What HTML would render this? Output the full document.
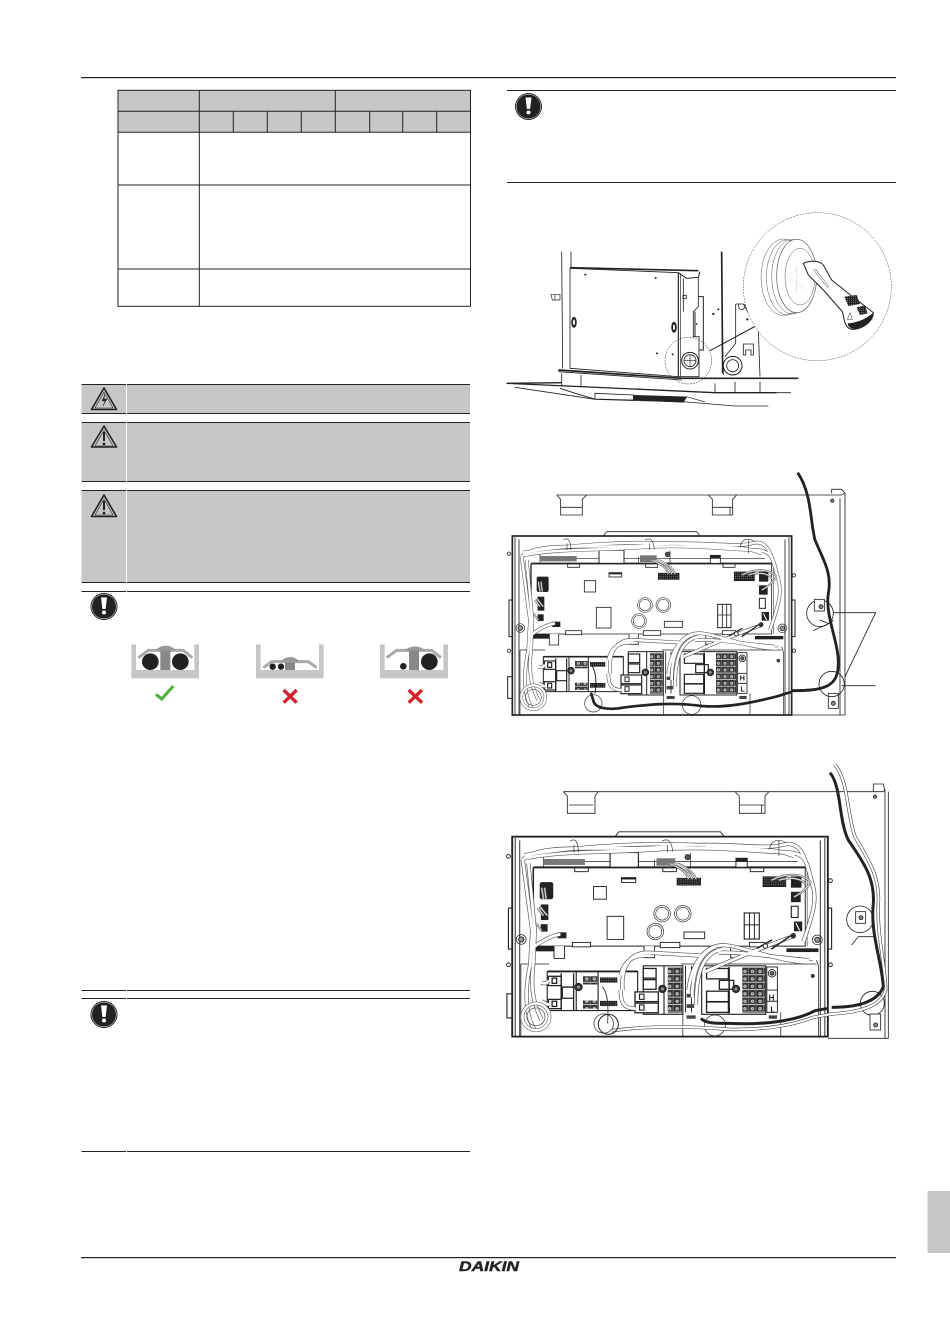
<!DOCTYPE html>
<html><head><meta charset="utf-8"><title>Daikin</title>
<style>html,body{margin:0;padding:0;background:#fff}svg{display:block}</style></head>
<body>
<svg xmlns="http://www.w3.org/2000/svg" width="950" height="1344" viewBox="0 0 950 1344">
<defs>
<pattern id="term" width="20" height="20" patternUnits="userSpaceOnUse"><rect width="20" height="20" fill="#333"/><circle cx="10" cy="10" r="4.5" fill="#ccc"/><circle cx="10" cy="10" r="1.5" fill="#333"/><rect y="18" width="20" height="2" fill="#fff"/><rect x="18" width="2" height="20" fill="#888"/></pattern>
<pattern id="chip" width="6" height="6" patternUnits="userSpaceOnUse"><rect width="6" height="6" fill="#222"/><rect x="1" y="1" width="2" height="2" fill="#bbb"/></pattern>
<g id="tubes" fill="none">
<path d="M80,290C130,240 300,270 460,255S720,265 770,250S830,290 845,340S860,410 825,510"/>
<path d="M84,278C200,258 400,238 600,254S740,262 800,280"/>
<path d="M90,285C200,265 300,272 440,262S720,270 780,270S835,310 850,360"/>
<path d="M80,290L105,480L100,570C85,640 85,700 110,745"/>
<path d="M95,300L112,480L108,570C100,640 110,680 130,720"/>
<path d="M345,640C340,570 370,535 420,540L560,548"/>
<path d="M340,600C350,555 380,545 420,548"/>
<path d="M520,640C530,560 570,515 620,520S780,570 850,565"/>
<path d="M540,680C540,590 560,540 610,530"/>
<path d="M530,660C530,590 550,540 590,525"/>
<path d="M100,530C130,510 150,495 180,490"/>
<path d="M340,640C340,670 345,690 380,690"/>
<path d="M600,540C640,535 780,555 840,560"/>
<path d="M565,590C590,580 700,530 800,495"/>
<path d="M130,620C140,625 145,620 150,615M130,670C140,675 145,680 150,678"/>
</g>
<g id="fine" fill="none">
<path d="M480,300C510,310 525,325 530,342M470,300C505,315 515,325 520,342M490,300C515,310 535,325 540,342"/>
<path d="M740,345C780,325 820,325 845,350M760,345C790,335 820,340 830,355M800,390C820,380 835,365 845,350"/>
<path d="M135,395L130,365M142,395L138,365M135,440L120,420M145,440L125,415M130,480L115,460"/>
</g>
<g id="board" fill="none" stroke="#222" stroke-width="2.5">
<rect x="52" y="228" width="838" height="537" fill="#fff" stroke-width="5"/>
<path d="M325,228L335,215H605L615,228M60,232V765M72,238V765M870,238V765M882,232V765"/>
<path d="M52,420H42V530H52M890,420H900V530H890M52,650H38V715H52" stroke-width="3"/>
<circle cx="42" cy="281" r="5"/><circle cx="42" cy="572" r="5"/><circle cx="897" cy="346" r="5"/><circle cx="897" cy="572" r="5"/>
<path d="M135,272V312M525,272V312M430,290V312M135,295H810" stroke-width="2"/>
<path d="M108,312H830V522H108Z" stroke-width="2.5" fill="#fff"/>
<path d="M108,312V522" stroke-width="4"/><path d="M108,310H830" stroke-width="4.5"/>
<path d="M835,320V522" stroke-width="1.5"/>
<rect x="312" y="265" width="75" height="45" fill="#fff" stroke-width="3"/><rect x="312" y="265" width="75" height="7" fill="#222" stroke="none"/>
<rect x="135" y="288" width="110" height="16" fill="#777" stroke="none"/>
<rect x="435" y="286" width="50" height="20" fill="#777" stroke="none"/>
<rect x="646" y="286" width="30" height="24" fill="#fff"/>
<rect x="646" y="286" width="30" height="10" fill="#222" stroke="none"/>
<circle cx="518" cy="283" r="7" fill="#555"/>
<rect x="218" y="312" width="36" height="10" fill="#fff"/><rect x="452" y="312" width="36" height="10" fill="#fff"/><rect x="684" y="312" width="36" height="10" fill="#fff"/>
<rect x="268" y="362" width="34" height="34"/>
<rect x="342" y="338" width="38" height="13" fill="#fff" stroke="#222"/><rect x="342" y="338" width="38" height="5" fill="#222" stroke="none"/>
<rect x="490" y="340" width="62" height="18" fill="url(#chip)"/>
<rect x="718" y="336" width="60" height="26" fill="url(#chip)"/>
<rect x="792" y="335" width="28" height="30" fill="#222" stroke="none"/>
<rect x="792" y="376" width="26" height="28" fill="#222" stroke="none"/>
<rect x="793" y="415" width="18" height="30" stroke-width="3"/>
<rect x="800" y="456" width="22" height="26" fill="#222" stroke="none"/><path d="M805,460L815,480" stroke="#fff" stroke-width="3"/>
<rect x="125" y="350" width="36" height="46" rx="6" fill="#222" stroke="none"/>
<rect x="128" y="410" width="20" height="42" fill="#222" stroke="none"/>
<rect x="128" y="463" width="18" height="20" fill="#222" stroke="none"/>
<rect x="172" y="485" width="24" height="16" fill="#222" stroke="none"/>
<g stroke="#444" stroke-width="2">
<circle cx="450" cy="435" r="22"/><circle cx="450" cy="435" r="17"/>
<circle cx="505" cy="435" r="22"/><circle cx="505" cy="435" r="17"/>
<circle cx="432" cy="483" r="22"/><circle cx="432" cy="483" r="17"/>
</g>
<rect x="304" y="442" width="44" height="62"/>
<rect x="668" y="433" width="40" height="70" stroke-width="3"/><path d="M682,433V503M695,433V503M668,465H708" />
<rect x="508" y="484" width="55" height="18"/>
<rect x="212" y="512" width="48" height="12" fill="#fff"/><rect x="445" y="512" width="52" height="14" fill="#fff"/><rect x="682" y="512" width="40" height="12" fill="#fff"/>
<circle cx="76" cy="504" r="13" stroke-width="2"/><circle cx="76" cy="504" r="7" fill="#999"/>
<circle cx="862" cy="505" r="13" stroke-width="2"/><circle cx="862" cy="505" r="7" fill="#999"/>
<rect x="110" y="522" width="55" height="14" fill="#222" stroke="none"/><rect x="780" y="528" width="85" height="10" fill="#222" stroke="none"/>
<path d="M163,522V555H191V522M402,522V553H430V522M632,522V553H660V522" fill="#fff"/>
<path d="M75,570H150M75,570V765M860,560L865,575V765M505,700V765M765,700V765M500,570H860" stroke-width="2"/>
<path d="M145,590H385V695H300M145,590V695H300M222,590V695M280,590V695" stroke-width="3"/>
<path d="M145,590H385" stroke-width="5"/>
<rect x="148" y="603" width="34" height="25" fill="#fff" stroke-width="3.5"/><rect x="158" y="608" width="12" height="14" fill="#fff" stroke-width="3.5"/>
<rect x="148" y="665" width="34" height="25" fill="#fff" stroke-width="3.5"/><rect x="158" y="670" width="12" height="14" fill="#fff" stroke-width="3.5"/>
<path d="M182,595V695M215,595V695M185,632H215V662H185Z" stroke-width="3.5"/>
<rect x="240" y="603" width="38" height="22" fill="url(#term)" stroke="none"/><rect x="240" y="668" width="38" height="22" fill="url(#term)" stroke="none"/>
<rect x="285" y="606" width="46" height="14" fill="url(#chip)" stroke="none"/><rect x="285" y="669" width="46" height="14" fill="url(#chip)" stroke="none"/>
<circle cx="228" cy="632" r="10" fill="#333"/><circle cx="228" cy="632" r="4" fill="#999" stroke="none"/>
<path d="M400,575H505V705H400ZM455,575V705" stroke-width="3"/>
<rect x="400" y="582" width="34" height="26" fill="#fff" stroke-width="3.5"/><rect x="400" y="612" width="34" height="26" fill="#fff" stroke-width="3.5"/>
<rect x="378" y="645" width="62" height="26" fill="#fff" stroke-width="3.5"/><rect x="378" y="675" width="62" height="26" fill="#fff" stroke-width="3.5"/>
<rect x="390" y="651" width="12" height="14" fill="#fff" stroke-width="3"/><rect x="390" y="680" width="12" height="14" fill="#fff" stroke-width="3"/>
<rect x="465" y="578" width="38" height="124" fill="url(#term)" stroke="none"/>
<circle cx="451" cy="637" r="10" fill="#333"/><circle cx="451" cy="637" r="4" fill="#999" stroke="none"/>
<path d="M555,575H725V705H555Z" stroke-width="3"/>
<rect x="568" y="582" width="58" height="28" fill="#fff" stroke-width="3.5"/><rect x="602" y="614" width="38" height="24" fill="#fff" stroke-width="3.5"/>
<rect x="568" y="643" width="58" height="28" fill="#fff" stroke-width="3.5"/><rect x="568" y="672" width="58" height="28" fill="#fff" stroke-width="3.5"/>
<rect x="663" y="578" width="60" height="124" fill="url(#term)" stroke="none"/>
<rect x="626" y="578" width="4" height="125" fill="#222" stroke="none"/>
<circle cx="646" cy="637" r="10" fill="#333"/><circle cx="646" cy="637" r="4" fill="#999" stroke="none"/>
<path d="M512,575V700M528,575V700" stroke-width="2.5"/>
<rect x="728" y="578" width="28" height="122" stroke-width="2.5"/><circle cx="742" cy="595" r="10"/><circle cx="742" cy="595" r="5" fill="#666"/>
<path d="M728,640H756M728,670H756"/>
<g stroke="#333" stroke-width="2"><circle cx="295" cy="730" r="26"/><circle cx="590" cy="735" r="28"/></g>
<circle cx="850" cy="602" r="4" fill="#555"/>
<rect x="515" y="708" width="24" height="9" fill="#444" stroke="none"/><rect x="733" y="708" width="22" height="9" fill="#444" stroke="none"/>
<rect x="515" y="650" width="20" height="10" fill="#444" stroke="none"/><rect x="515" y="678" width="20" height="10" fill="#444" stroke="none"/>
<use href="#tubes" stroke="#555" stroke-width="11"/>
<use href="#tubes" stroke="#fff" stroke-width="7.5"/>
<use href="#fine" stroke="#555" stroke-width="6"/>
<use href="#fine" stroke="#ddd" stroke-width="3"/>
<circle cx="115" cy="712" r="36" stroke="#555" stroke-width="10"/><circle cx="115" cy="712" r="36" stroke="#fff" stroke-width="7"/>
<circle cx="115" cy="712" r="24" stroke="#555" stroke-width="2"/>
<path d="M205,240C218,232 226,236 228,270M450,240C465,232 475,238 478,268M735,262C740,235 760,232 780,245M760,238V280M216,250V270M464,250V270" stroke-width="2" stroke="#444"/>
<path d="M702,528L742,505M740,530L790,495" stroke-width="4"/><circle cx="724" cy="522" r="6" fill="#fff"/><circle cx="798" cy="494" r="6" fill="#333"/>
</g>
</defs>

<!-- header/footer -->
<rect x="81" y="77" width="815" height="1.2" fill="#222"/>
<rect x="81" y="1257" width="815" height="1.2" fill="#222"/>
<rect x="927.5" y="1191" width="22.5" height="62" fill="#c6c6c6"/>
<text x="459" y="1271" font-family="Liberation Sans, sans-serif" font-weight="bold" font-style="italic" font-size="14" textLength="60" lengthAdjust="spacingAndGlyphs" fill="#222" stroke="#222" stroke-width=".4">DAIKIN</text>

<!-- table -->
<rect x="118" y="90" width="352.5" height="42.5" fill="#c6c6c6"/>
<g fill="none" stroke="#222" stroke-width="1">
<rect x="118" y="90.3" width="352.5" height="216"/>
<path d="M118,111.3H470.5M118,132.3H470.5M118,185H470.5M118,269H470.5M199.3,90V306M335.3,90V132M233.3,111V132M267.3,111V132M301.3,111V132M369.7,111V132M402.7,111V132M436.7,111V132"/>
</g>

<!-- warning bands -->
<rect x="81.5" y="384" width="388.5" height="29.5" fill="#c6c6c6"/>
<rect x="81.5" y="422" width="388.5" height="59.5" fill="#c6c6c6"/>
<rect x="81.5" y="490" width="388.5" height="92.5" fill="#c6c6c6"/>
<g fill="#222">
<rect x="81.5" y="384" width="388.5" height="1"/><rect x="81.5" y="413" width="388.5" height="1"/>
<rect x="81.5" y="422" width="388.5" height="1"/><rect x="81.5" y="481" width="388.5" height="1"/>
<rect x="81.5" y="490" width="388.5" height="1"/><rect x="81.5" y="582" width="388.5" height="1"/>
<rect x="81.5" y="591" width="388.5" height="1"/>
<rect x="81.5" y="990" width="388.5" height="1"/><rect x="81.5" y="998" width="388.5" height="1"/>
<rect x="81.5" y="1151" width="388.5" height="1"/>
</g>
<rect x="126" y="384" width="1" height="199" fill="#fff"/>
<rect x="126" y="590" width="1" height="3" fill="#fff"/>
<rect x="126" y="989" width="1" height="11" fill="#fff"/>
<rect x="126" y="1150" width="1" height="3" fill="#fff"/>

<!-- warning triangles -->
<g fill="none" stroke="#222" stroke-linejoin="round">
<path d="M104,388L91.5,409.5H116.5Z" stroke-width="1.6"/><path d="M104,392L95,408H113Z" stroke-width=".6"/>
<path d="M105,394L102,401H105L103,406L107,399H104Z" fill="#222" stroke-width=".4"/>
<path d="M104,426L91.5,447H116.5Z" stroke-width="1.6"/><path d="M104,430L95,446H113Z" stroke-width=".6"/>
<path d="M104,432V441" stroke-width="2"/><circle cx="104" cy="444" r=".9" fill="#222"/>
<path d="M104,495L91.5,516.5H116.5Z" stroke-width="1.6"/><path d="M104,499L95,515H113Z" stroke-width=".6"/>
<path d="M104,501V510" stroke-width="2"/><circle cx="104" cy="513" r=".9" fill="#222"/>
</g>

<!-- notice icons -->
<g id="ex"><circle cx="104" cy="606.5" r="13.5" fill="#222"/><circle cx="104" cy="606.5" r="12.3" fill="none" stroke="#fff" stroke-width=".5"/>
<path d="M101,597.5H107L105.6,609H102.4Z" fill="#fff"/><circle cx="104" cy="612.5" r="2" fill="#fff"/></g>
<use href="#ex" y="408"/>
<use href="#ex" x="424.5" y="-500"/>

<!-- cable clamp thumbnails -->
<g transform="translate(70,375) scale(.33333)">
<g fill="#c6c6c6">
<path d="M184,808H198V885H373V808H387V910H184Z"/>
<path d="M558,808H572V885H747V808H761V910H558Z"/>
<path d="M930,808H944V885H1120V808H1134V910H930Z"/>
</g>
<g fill="none" stroke="#aaa" stroke-width="9">
<path d="M205,848L235,826H340L367,848"/>
<path d="M580,878L605,860H715L740,878"/>
<path d="M950,848L980,826H1085L1113,848"/>
</g>
<g fill="#888">
<rect x="271" y="826" width="30" height="59"/><rect x="645" y="862" width="30" height="23"/><rect x="1017" y="826" width="30" height="59"/>
<path d="M255,826Q287,798 320,826Z" fill="#999"/><path d="M630,860Q660,832 690,860Z" fill="#999"/><path d="M1003,826Q1035,802 1067,826Z" fill="#999"/>
</g>
<g fill="#222">
<circle cx="241" cy="860" r="25"/><circle cx="331" cy="860" r="25"/>
<circle cx="608" cy="875" r="9.5"/><circle cx="633" cy="875" r="9.5"/>
<circle cx="1078" cy="860" r="25"/><circle cx="1000" cy="874" r="10"/>
</g>
<path d="M258,958L275,972L310,933" fill="none" stroke="#4bb033" stroke-width="9"/>
<path d="M641,945L680,983M680,945L641,983M1016,945L1056,983M1056,945L1016,983" fill="none" stroke="#d2232a" stroke-width="10"/>
</g>

<!-- right notice -->
<rect x="507" y="90" width="389" height="1" fill="#222"/>
<rect x="507" y="182" width="389" height="1" fill="#222"/>

<!-- knockout illustration -->
<g transform="translate(495,200) scale(.33333)" fill="none" stroke="#222" stroke-width="2.5">
<path d="M200,155L203,505M228,155V205" />
<path d="M680,155L683,520" stroke-width="5"/>
<path d="M168,283H195V300H172ZM180,300V285" stroke-width="2"/>
<path d="M225,205L550,218V530L225,505Z" fill="#fff"/>
<path d="M225,203L610,212" stroke-width="5"/>
<path d="M550,218L575,235L610,232L615,215M550,218V530" stroke-width="3"/><path d="M556,220V530" stroke-width="2"/>
<path d="M565,235V335M610,232V320L595,335V410L612,410V530H550"/>
<path d="M610,290H625V450H612M600,335V410" stroke-width="3"/>
<ellipse cx="237" cy="367" rx="7" ry="15" fill="#222"/><ellipse cx="237" cy="367" rx="3" ry="8" fill="#fff" stroke="none"/>
<ellipse cx="537" cy="382" rx="7" ry="15" fill="#222"/><ellipse cx="537" cy="382" rx="3" ry="8" fill="#fff" stroke="none"/>
<g fill="#222" stroke="none"><circle cx="271" cy="224" r="3"/><circle cx="482" cy="234" r="3"/><circle cx="486" cy="460" r="3"/><circle cx="533" cy="463" r="3"/><circle cx="670" cy="328" r="3"/><circle cx="655" cy="342" r="3.5"/><circle cx="757" cy="358" r="3.5"/><circle cx="605" cy="372" r="2.5"/></g>
<rect x="564" y="286" width="10" height="10"/>
<circle cx="585" cy="482" r="25" stroke-width="3"/><circle cx="585" cy="482" r="18" stroke-width="2.5"/><path d="M567,482H603M585,464V500" stroke-width="2"/>
<path d="M685,500V525M722,312H745L790,390L795,530M722,312V430L690,470M730,312C730,335 750,335 750,312"/>
<circle cx="713" cy="497" r="28" stroke-width="3"/><circle cx="713" cy="497" r="18" stroke-width="2.5"/>
<path d="M745,432H775V465H768V450H752V465H745Z"/>
<circle cx="580" cy="482" r="70" stroke-width="1.5" stroke-dasharray="6 3"/>
<path d="M645,452L782,378" stroke-width="3"/>
<path d="M190,510L560,535L910,535" stroke-width="5"/>
<path d="M200,520V556M258,525V560M660,550V578M720,545V580M795,545V580M845,578H888"/>
<path d="M35,550L200,548" stroke-width="4"/>
<path d="M35,550L660,578H845" stroke-width="4"/>
<path d="M60,562L300,598L575,606L720,618H820" stroke-width="2.5"/>
<path d="M190,515L560,540M195,565C240,580 270,590 300,597"/>
<path d="M300,580L415,585V600L300,597Z" fill="#fff"/>
<path d="M415,585L577,590L565,608L415,600Z" fill="#222" stroke="none"/>
<path d="M575,590L630,606" stroke-width="2"/>
<circle cx="967" cy="260" r="222" fill="#fff" stroke="#444" stroke-width="1.5" stroke-dasharray="6 3"/>
<g stroke="#555" stroke-width="1.5">
<ellipse cx="865" cy="232" rx="67" ry="115" fill="#fff"/>
<ellipse cx="878" cy="232" rx="64" ry="113"/>
<ellipse cx="892" cy="230" rx="62" ry="112"/>
<ellipse cx="905" cy="228" rx="60" ry="110" fill="#fff" stroke-width="2"/>
<ellipse cx="915" cy="230" rx="45" ry="85"/>
<path d="M880,230L915,200M880,230L935,270M905,190V280" stroke="#bbb" stroke-width="1"/>
</g>
<path d="M925,190C945,180 975,182 985,195L1010,240L1060,280L1135,338C1135,365 1100,390 1070,388C1050,385 1048,360 1042,335L985,270L940,225Z" fill="#fff" stroke-width="3"/>
<path d="M958,208L1000,262" stroke-width="7" stroke="#555"/><path d="M958,208L1000,262" stroke="#fff" stroke-width="4"/>
<path d="M1058,370Q1100,368 1135,338Q1130,375 1080,388Q1060,385 1058,370Z" fill="#222" stroke="none"/>
<path d="M1048,290L1085,285L1095,312L1060,318Z" fill="url(#chip)" stroke="none"/>
<path d="M1085,322L1110,316L1118,340L1095,345Z" fill="url(#chip)" stroke="none"/>
<path d="M1065,338L1057,358H1072Z" stroke-width="1.5"/>
</g>

<!-- wiring diagram 1 -->
<g transform="translate(495,460) scale(.33333)" fill="none" stroke="#222" stroke-width="2.5">
<path d="M185,105H1040L1050,100V765M1035,115V765M1010,100V88H1040L1050,100M890,765H1050"/>
<path d="M185,105L197,118V165H262V118L275,105M197,142H262M640,105L652,118V165H713V118L725,105M652,142H713M705,142V165"/>
<circle cx="1012" cy="122" r="5" fill="#888"/>
<use href="#board"/>
<circle cx="975" cy="460" r="40" stroke-width="2.5"/>
<rect x="958" y="418" width="30" height="35" fill="#fff"/><circle cx="978" cy="440" r="6" fill="#888"/>
<path d="M1015,480C1010,490 1000,490 955,512M1000,490L975,480"/>
<rect x="1000" y="700" width="30" height="45" fill="#fff"/><circle cx="1015" cy="730" r="6" fill="#888"/>
<circle cx="1010" cy="672" r="38"/>
<path d="M908,38C950,100 945,180 960,240C985,300 1012,340 1000,400C990,470 1030,540 1030,610C1030,680 990,692 892,692" stroke-width="8.5"/>
<path d="M892,696C870,700 860,706 835,712C780,725 700,745 620,738C530,725 450,735 390,742C340,752 300,745 295,722L288,698" stroke-width="8"/>
<path d="M1015,458H1142L1050,650M1040,677H1142" stroke-width="2.5"/>
<path d="M290,615C305,640 305,670 300,700" stroke-width="3"/>
<text x="734" y="662" font-family="Liberation Sans,sans-serif" font-weight="bold" font-size="22" fill="#222" stroke="none">H</text>
<text x="736" y="694" font-family="Liberation Sans,sans-serif" font-weight="bold" font-size="22" fill="#222" stroke="none">L</text>
</g>

<!-- wiring diagram 2 -->
<g transform="translate(495,760) scale(.33333)" fill="none" stroke="#222" stroke-width="2.5">
<path d="M205,95H1165L1170,90V835M1180,95V835M1135,95V72H1165L1170,95M1000,835H1180"/>
<path d="M205,95L217,108V160H300V108L310,95M222,135H295M720,95L733,108V160H810V108L822,95M735,135H808M800,135V160"/>
<circle cx="1140" cy="110" r="5" fill="#888"/>
<g transform="matrix(1.13 0 0 1.117 -7.15 -24.7)"><use href="#board"/></g>
<circle cx="1095" cy="478" r="40" stroke-width="2.5"/>
<rect x="1082" y="455" width="30" height="35" fill="#fff"/><circle cx="1098" cy="473" r="6" fill="#888"/>
<path d="M1135,530L1090,530L1070,555"/>
<circle cx="1132" cy="730" r="36"/>
<rect x="1125" y="762" width="32" height="48" fill="#fff"/><circle cx="1142" cy="795" r="6" fill="#888"/>
<g id="w2">
<path d="M1020,15C1060,60 1055,160 1080,230C1120,300 1155,350 1150,430C1145,520 1170,610 1172,690C1160,730 1120,755 1010,762L955,772C880,800 790,810 700,808C600,800 480,795 350,812" stroke="#333" stroke-width="10"/>
<path d="M1020,15C1060,60 1055,160 1080,230C1120,300 1155,350 1150,430C1145,520 1170,610 1172,690C1160,730 1120,755 1010,762L955,772C880,800 790,810 700,808C600,800 480,795 350,812" stroke="#fff" stroke-width="6.5"/>
</g>
<path d="M1005,38C1040,80 1030,180 1060,240C1100,300 1140,350 1135,430C1125,520 1160,600 1165,680C1150,720 1100,742 1010,742" stroke-width="9"/>
<path d="M1000,745L960,752C900,785 800,795 700,790C660,790 630,790 618,775" stroke-width="9"/>
<circle cx="340" cy="793" r="30" stroke-width="3"/>
<path d="M322,680C340,700 340,740 338,790" stroke-width="2.5"/>
<text x="821" y="722" font-family="Liberation Sans,sans-serif" font-weight="bold" font-size="24" fill="#222" stroke="none">H</text>
<text x="826" y="757" font-family="Liberation Sans,sans-serif" font-weight="bold" font-size="24" fill="#222" stroke="none">L</text>
</g>
</svg>
</body></html>
